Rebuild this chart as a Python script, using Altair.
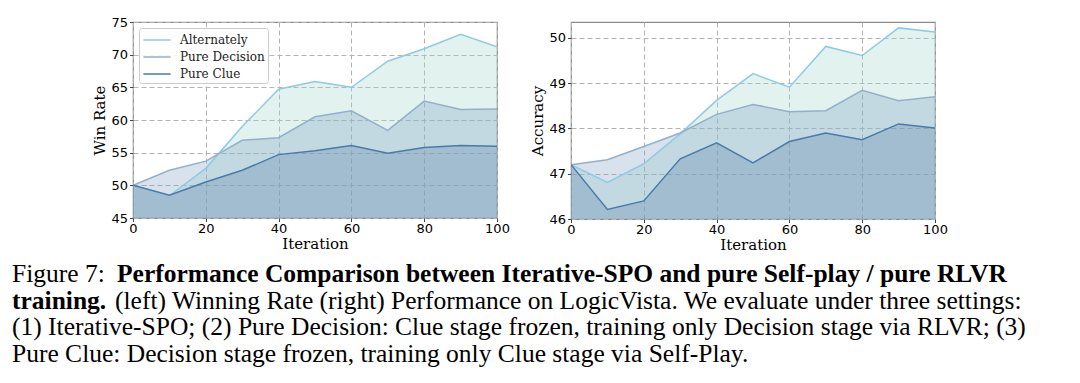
import altair as alt
import pandas as pd

iterations = [0, 10, 20, 30, 40, 50, 60, 70, 80, 90, 100]
series_names = ["Alternately", "Pure Decision", "Pure Clue"]

win_alternately = [50.0, 48.4, 52.6, 59.0, 64.7, 65.9, 65.0, 69.0, 70.9, 73.1, 71.2]
win_decision = [50.0, 52.3, 53.7, 56.9, 57.3, 60.5, 61.4, 58.4, 62.9, 61.6, 61.7]
win_clue = [50.0, 48.5, 50.5, 52.3, 54.7, 55.3, 56.1, 54.9, 55.8, 56.1, 56.0]

acc_alternately = [47.2, 46.81, 47.22, 47.88, 48.62, 49.21, 48.91, 49.81, 49.61, 50.22, 50.13]
acc_decision = [47.2, 47.31, 47.6, 47.9, 48.31, 48.53, 48.37, 48.39, 48.84, 48.61, 48.70]
acc_clue = [47.2, 46.21, 46.4, 47.33, 47.68, 47.24, 47.71, 47.9, 47.75, 48.1, 48.01]

x_ticks = [0, 20, 40, 60, 80, 100]
win_ticks = [45, 50, 55, 60, 65, 70, 75]
acc_ticks = [46, 47, 48, 49, 50]

line_colors = ["#8ecae6", "#93afcc", "#4a7aab"]
fill_colors = ["#9ed4ca", "#7a9fc0", "#6589b0"]
fill_opacity = [0.3, 0.3, 0.35]

caption_lines = [
    [("Figure 7:", False), ("Performance Comparison between Iterative-SPO and pure Self-play / pure RLVR", True)],
    [("training.", True), ("(left) Winning Rate (right) Performance on LogicVista. We evaluate under three settings:", False)],
    [("(1) Iterative-SPO; (2) Pure Decision: Clue stage frozen, training only Decision stage via RLVR; (3)", False)],
    [("Pure Clue: Decision stage frozen, training only Clue stage via Self-Play.", False)],
]
# caption segment offsets, relative to the left plot's origin (plot starts 121px right of caption)
caption_seg_x = [[-121, -16], [-121, -18], [-121], [-121]]
caption_line_y = [19, 45.7, 72.4, 99.1]


def panel(values, ymin, ymax, yticks, ytitle, height, legend_xy):
    rows = []
    for name, vals in zip(series_names, values):
        for it, v in zip(iterations, vals):
            rows.append({"Iteration": it, "value": v, "series": name})
    df = pd.DataFrame(rows)
    xenc = alt.X("Iteration:Q",
                 scale=alt.Scale(domain=[0, 100], nice=False, zero=False),
                 axis=alt.Axis(values=x_ticks, title="Iteration", labelFlush=False, format="d",
                               labelPadding=1, titlePadding=1))
    yenc = alt.Y("value:Q",
                 scale=alt.Scale(domain=[ymin, ymax], nice=False, zero=False),
                 axis=alt.Axis(values=yticks, title=ytitle, format="d"))
    base = alt.Chart(df)
    layers = []
    for name, fc, op in zip(series_names, fill_colors, fill_opacity):
        layers.append(
            base.transform_filter(alt.datum.series == name)
            .mark_area(fill=fc, fillOpacity=op, clip=True)
            .encode(x=xenc, y=yenc, y2=alt.datum(ymin))
        )
    lines = base.mark_line(strokeWidth=1.5, clip=True).encode(
        x=xenc, y=yenc,
        color=alt.Color("series:N",
                        scale=alt.Scale(domain=series_names, range=line_colors),
                        sort=series_names,
                        legend=alt.Legend(
                            title=None, orient="none",
                            legendX=legend_xy[0], legendY=legend_xy[1],
                            fillColor="rgba(255,255,255,0.85)", strokeColor="#cccccc",
                            cornerRadius=3, padding=3,
                            symbolType="M-1.7,0H1.7", symbolSize=256,
                            symbolStrokeWidth=1.5, symbolOffset=6,
                            labelFont="DejaVu Serif", labelFontSize=12,
                            labelColor="#222222", labelOffset=14,
                            rowPadding=2,
                        )),
    )
    layers.append(lines)
    return alt.layer(*layers).properties(
        width=364, height=height,
        view=alt.ViewBackground(stroke="#8a8a8a", strokeWidth=1.2),
    )


left = panel([win_alternately, win_decision, win_clue], 45, 75, win_ticks, "Win Rate", 196, (6, 6))
right = panel([acc_alternately, acc_decision, acc_clue], 46, 50.35, acc_ticks, "Accuracy", 197, (6, 1))

cap_rows = []
for li, (segs, xs) in enumerate(zip(caption_lines, caption_seg_x)):
    for (txt, bold), sx in zip(segs, xs):
        cap_rows.append({"text": txt, "bold": bold, "x": sx, "y": caption_line_y[li]})
cap_df = pd.DataFrame(cap_rows)

cap_base = alt.Chart(cap_df)
cap_regular = cap_base.transform_filter("!datum.bold").mark_text(
    align="left", baseline="alphabetic", font="Liberation Serif", fontSize=25.5, color="black"
).encode(x=alt.X("x:Q", scale=None), y=alt.Y("y:Q", scale=None), text="text:N")
cap_bold = cap_base.transform_filter("datum.bold").mark_text(
    align="left", baseline="alphabetic", font="Liberation Serif", fontSize=25.5,
    fontWeight="bold", color="black"
).encode(x=alt.X("x:Q", scale=None), y=alt.Y("y:Q", scale=None), text="text:N")
caption = alt.layer(cap_regular, cap_bold).properties(width=700, height=106)

top = alt.hconcat(left, right, spacing=19)
chart = alt.vconcat(top, caption, spacing=8).properties(
    padding={"left": 4, "top": 7, "right": 0, "bottom": 0}
).configure_view(stroke=None).configure_axis(
    labelFont="DejaVu Sans", labelFontSize=13, labelColor="black",
    titleFont="DejaVu Serif", titleFontSize=15, titleFontWeight="normal", titleColor="black",
    tickColor="#444444", tickSize=3.5, domain=False,
    gridColor="#b4b4b4", gridDash=[5, 3], gridWidth=1,
    labelPadding=2, titlePadding=3,
)

chart.save("out.html", embed_options={"renderer": "svg", "actions": False})
